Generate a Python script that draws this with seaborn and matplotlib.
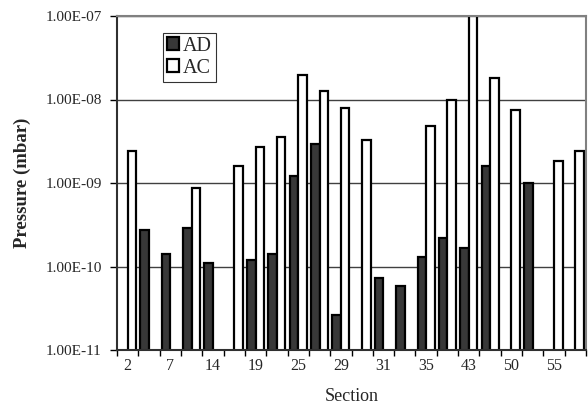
import seaborn as sns
import matplotlib.pyplot as plt
import matplotlib.ticker as mticker
import pandas as pd
import numpy as np

# sections (only every other one is labelled on the axis)
sections = ['2', '4', '7', '10', '14', '17', '19', '22', '25', '27', '29',
            '30', '31', '33', '35', '39', '43', '47', '50', '52', '55', '58']
ad = [np.nan, 2.7e-10, 1.4e-10, 2.9e-10, 1.1e-10, np.nan, 1.2e-10, 1.4e-10,
      1.2e-9, 2.9e-9, 2.6e-11, np.nan, 7.3e-11, 5.8e-11, 1.3e-10, 2.2e-10,
      1.65e-10, 1.6e-9, np.nan, 1.0e-9, np.nan, np.nan]
ac = [2.45e-9, np.nan, np.nan, 8.8e-10, np.nan, 1.6e-9, 2.7e-9, 3.6e-9,
      1.95e-8, 1.25e-8, 8.0e-9, 3.3e-9, np.nan, np.nan, 4.8e-9, 1.0e-8,
      1.0e-7, 1.8e-8, 7.4e-9, np.nan, 1.85e-9, 2.45e-9]
series = ['AD', 'AC']
yticks = [1e-11, 1e-10, 1e-9, 1e-8, 1e-7]

df = pd.DataFrame({'Section': sections, 'AD': ad, 'AC': ac})
long_df = df.melt(id_vars='Section', value_vars=series,
                  var_name='Series', value_name='Pressure').dropna()

sns.set_theme(style='white')
plt.rcParams['font.family'] = ['Liberation Serif', 'DejaVu Serif']

fig = plt.figure(figsize=(5.88, 4.09), dpi=100)
ax = fig.add_axes([117 / 588, 59 / 409, 469 / 588, 334 / 409])

sns.barplot(data=long_df, x='Section', y='Pressure', hue='Series',
            order=sections, hue_order=series,
            palette={'AD': '#383838', 'AC': 'white'},
            width=0.8, edgecolor='black', linewidth=1.6, ax=ax)

# log axis applied after drawing so the bars grow from the bottom
ax.set_yscale('log')
ax.set_ylim(1e-11, 1e-7)
ax.set_xlim(-0.5, len(sections) - 0.5)
ax.yaxis.set_major_locator(mticker.FixedLocator(yticks))
ax.yaxis.set_minor_locator(mticker.NullLocator())
ax.yaxis.set_major_formatter(mticker.FuncFormatter(
    lambda v, p: '{:.2E}'.format(v)))
ax.grid(axis='y', color='#404040', linewidth=1)
ax.set_axisbelow(True)

# x labels on every other section, tick marks at category boundaries
ax.set_xticks(range(0, len(sections), 2))
ax.set_xticklabels(sections[::2])
ax.set_xticks(np.arange(-0.5, len(sections), 1), minor=True)
ax.tick_params(axis='x', which='major', length=0, pad=6, labelsize=11.5)
ax.tick_params(axis='x', which='minor', length=4, width=1, color='black',
               direction='out', bottom=True)
ax.tick_params(axis='y', which='major', length=5, width=1, color='black',
               direction='out', left=True, labelsize=11, pad=6)

for s in ['top', 'right']:
    ax.spines[s].set_color('#808080')
    ax.spines[s].set_linewidth(1.5)
for s in ['left', 'bottom']:
    ax.spines[s].set_color('#303030')
    ax.spines[s].set_linewidth(1.5)

ax.set_xlabel('Section', fontsize=13, labelpad=10)
ax.set_ylabel('Pressure (mbar)', fontsize=13.5, fontweight='bold', labelpad=10)

leg = ax.legend(loc='upper left', bbox_to_anchor=(0.098, 0.95),
                frameon=True, fancybox=False, edgecolor='black',
                fontsize=14.5, handlelength=0.6, handleheight=0.6,
                handletextpad=0.2, borderpad=0.2, labelspacing=0.15,
                borderaxespad=0)
leg.get_frame().set_linewidth(0.8)

plt.savefig('out.png', dpi=100)
